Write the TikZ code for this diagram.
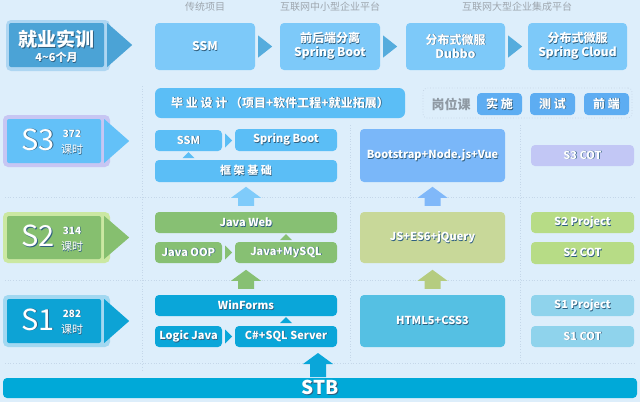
\documentclass[tikz,border=0pt]{standalone}
\usepackage{fontspec}
\setmainfont{Noto Sans CJK SC}
\usepackage{tikz}

\definecolor{bgc}{HTML}{DDEEFB}
\definecolor{hdc}{HTML}{9EA6AE}
\definecolor{jyc}{HTML}{4BA3D6}
\definecolor{jyb}{HTML}{AED6F2}
\definecolor{topc}{HTML}{7DC9F9}
\definecolor{toparr}{HTML}{55ACDD}
\definecolor{desc}{HTML}{5BBEF6}
\definecolor{gwc}{HTML}{5DADF2}
\definecolor{gwl}{HTML}{8F99A3}
\definecolor{gwd}{HTML}{C4D4E4}
\definecolor{s3c}{HTML}{63C1F8}
\definecolor{s3b}{HTML}{C7C6F3}
\definecolor{s3m}{HTML}{5BBEF6}
\definecolor{bootc}{HTML}{7AB7F9}
\definecolor{s3cot}{HTML}{C2C7F5}
\definecolor{s2c}{HTML}{86BF6F}
\definecolor{s2b}{HTML}{CBE8A2}
\definecolor{s2m}{HTML}{87C073}
\definecolor{jsc}{HTML}{C8D899}
\definecolor{s2s}{HTML}{B7DC86}
\definecolor{s1c}{HTML}{0DA3D5}
\definecolor{s1b}{HTML}{A2D8F1}
\definecolor{s1m}{HTML}{0AA6D9}
\definecolor{htmlc}{HTML}{55C0E3}
\definecolor{s1s}{HTML}{8FD3EC}
\definecolor{stbc}{HTML}{00A9D8}
\definecolor{sepc}{HTML}{C5D7E9}
\definecolor{shc}{HTML}{2F5F80}
\definecolor{upblue}{HTML}{7FCBFA}
\definecolor{upboot}{HTML}{80B8F9}
\definecolor{upjs}{HTML}{B5CC80}

% white text with a small dark shadow
\newcommand{\shd}[1]{\leavevmode\rlap{\kern0.7pt\raisebox{-0.7pt}{\color{shc}#1}}#1}
% small pointer to the right of a box
\newcommand{\pointer}[4]{\fill[#1] (#2) ++(3,-#3) -- ++(#4,#3) -- ++(-#4,#3) -- cycle;}
% small pointer up into the box above
\newcommand{\uptri}[2]{\fill[#1] (#2) ++(-6,7) -- ++(6,-6) -- ++(6,6) -- cycle;}
% block arrow up: colour, anchor below, gap, length
\newcommand{\blockarrow}[4]{\fill[#1] (#2) ++(-8,-#3) -- ++(16,0) -- ++(0,{11-#4}) -- ++(7,0) -- ++(-15,-11) -- ++(-15,11) -- ++(7,0) -- cycle;}

\tikzset{
  box/.style={rounded corners=4pt, inner sep=0pt, text=white, align=center,
    font=\bfseries\fontsize{11}{13}\selectfont},
  bigbox/.style={box, font=\bfseries\fontsize{12}{14}\selectfont},
  border/.style={rounded corners=5pt, inner sep=0pt, minimum width=107pt, minimum height=52pt},
  sbox/.style={box, rounded corners=2pt, minimum width=94pt, minimum height=44pt},
  head/.style={text=hdc, font=\fontsize{10}{12}\selectfont},
  sep/.style={sepc, dotted, line width=0.7pt},
}

\begin{document}
\begin{tikzpicture}[x=1pt,y=-1pt]
  \useasboundingbox (0,0) rectangle (640,402);
  \fill[bgc] (0,0) rectangle (640,402);

  % dotted separators
  \draw[sep] (5,197) -- (635,197);
  \draw[sep] (5,280) -- (635,280);
  \draw[sep] (5,363) -- (635,363);
  \draw[sep] (142,86) -- (142,370);
  \draw[sep] (350,125) -- (350,362);
  \draw[sep] (520,125) -- (520,362);

  % headers
  \node[head] (h1) at (205,7) {传统项目};
  \node[head] (h2) at (330,7) {互联网中小型企业平台};
  \node[head] (h3) at (517,7) {互联网大型企业集成平台};

  % top row
  \node[border, fill=jyb, minimum width=104pt, minimum height=51pt] (jyb) at (58,45.5) {};
  \node[sbox, fill=jyc, minimum width=95pt] (jy) at (56.5,45) {};
  \pointer{jyc}{jy.east}{22}{25}
  \node[text=white, font=\bfseries\fontsize{19}{21}\selectfont] (jyt) at (56.5,40) {\shd{就业实训}};
  \node[text=white, font=\bfseries\fontsize{11}{13}\selectfont] (jys) at (56.5,58) {\shd{4\textasciitilde6个月}};

  \node[bigbox, fill=topc, minimum width=100pt, minimum height=47pt] (ssm) at (205,46.5) {\shd{SSM}};
  \node[bigbox, fill=topc, minimum width=100pt, minimum height=47pt] (fed) at (330,46.5) {\shd{前后端分离}\\\shd{Spring Boot}};
  \node[bigbox, fill=topc, minimum width=99pt, minimum height=47pt] (dubbo) at (455.5,46.5) {\shd{分布式微服}\\\shd{Dubbo}};
  \node[bigbox, fill=topc, minimum width=99pt, minimum height=47pt] (cloud) at (577.5,46.5) {\shd{分布式微服}\\\shd{Spring Cloud}};
  \pointer{toparr}{ssm.east}{11}{14}
  \pointer{toparr}{fed.east}{11}{14}
  \pointer{toparr}{dubbo.east}{11}{14}

  % design and job courses
  \node[bigbox, fill=desc, rounded corners=6pt, minimum width=250pt, minimum height=30pt] (des) at (280,103) {\shd{毕 业 设 计 （项目+软件工程+就业拓展）}};
  \node[draw=gwd, dotted, line width=0.7pt, rounded corners=4pt, minimum width=209pt, minimum height=30pt] (gw) at (527.5,103) {};
  \node[text=gwl, font=\bfseries\fontsize{13}{15}\selectfont] (gwt) at (451,104) {岗位课};
  \node[bigbox, fill=gwc, minimum width=45pt, minimum height=22pt] (ss) at (499.5,104) {\shd{实 施}};
  \node[bigbox, fill=gwc, minimum width=45pt, minimum height=22pt] (cs1) at (552.5,104) {\shd{测 试}};
  \node[bigbox, fill=gwc, minimum width=45pt, minimum height=22pt] (qd) at (606.5,104) {\shd{前 端}};

  % S3
  \node[border, fill=s3b] (s3b) at (56.5,141) {};
  \node[sbox, fill=s3c] (s3) at (54,141) {};
  \pointer{s3c}{s3.east}{22}{25}
  \node[text=white, font=\fontsize{29}{29}\selectfont] (s3t) at (38,140) {\shd{S3}};
  \node[text=white, font=\bfseries\fontsize{10}{11}\selectfont] (s3h) at (72,134) {\shd{372}};
  \node[text=white, font=\fontsize{11}{12}\selectfont] (s3k) at (72,150) {\shd{课时}};

  \node[box, fill=s3m, minimum width=67pt, minimum height=21pt] (ssm3) at (188.5,140.5) {\shd{SSM}};
  \node[box, fill=s3m, minimum width=102pt, minimum height=22pt] (sb) at (286,140) {\shd{Spring Boot}};
  \node[box, fill=s3m, minimum width=182pt, minimum height=22pt] (kj) at (246,171) {\shd{框 架 基 础}};
  \pointer{s3m}{ssm3.east}{7}{7}
  \uptri{s3m}{ssm3.south}
  \node[box, fill=bootc, minimum width=145pt, minimum height=53pt] (boot) at (432.5,155.5) {\shd{Bootstrap+Node.js+Vue}};
  \node[box, fill=s3cot, minimum width=103pt, minimum height=21pt] (s3co) at (582.5,155.5) {\shd{S3 COT}};

  % S2
  \node[border, fill=s2b, minimum height=51pt] (s2b) at (56.5,237.5) {};
  \node[sbox, fill=s2c, minimum height=43pt] (s2) at (54,237.5) {};
  \pointer{s2c}{s2.east}{21.5}{25}
  \node[text=white, font=\fontsize{29}{29}\selectfont] (s2t) at (38,236.5) {\shd{S2}};
  \node[text=white, font=\bfseries\fontsize{10}{11}\selectfont] (s2h) at (72,231) {\shd{314}};
  \node[text=white, font=\fontsize{11}{12}\selectfont] (s2k) at (72,247) {\shd{课时}};

  \node[box, fill=s2m, minimum width=182pt, minimum height=21pt] (jw) at (246,222.5) {\shd{Java Web}};
  \node[box, fill=s2m, minimum width=67pt, minimum height=21pt] (oop) at (188.5,252.5) {\shd{Java OOP}};
  \node[box, fill=s2m, minimum width=102pt, minimum height=21pt] (jm) at (286,252.5) {\shd{Java+MySQL}};
  \pointer{s2m}{oop.east}{7}{7}
  \uptri{s2m}{jm.north |- jw.south}
  \node[box, fill=jsc, minimum width=145pt, minimum height=51pt] (js) at (432.5,237.5) {\shd{JS+ES6+jQuery}};
  \node[box, fill=s2s, minimum width=103pt, minimum height=21pt] (s2p) at (582.5,222.5) {\shd{S2 Project}};
  \node[box, fill=s2s, minimum width=103pt, minimum height=22pt] (s2co) at (582.5,253) {\shd{S2 COT}};
  \blockarrow{upblue}{jw.north}{6}{19}
  \blockarrow{upboot}{js.north}{6}{19}

  % S1
  \node[border, fill=s1b] (s1b) at (56.5,321) {};
  \node[sbox, fill=s1c] (s1) at (54,321) {};
  \pointer{s1c}{s1.east}{22}{25}
  \node[text=white, font=\fontsize{29}{29}\selectfont] (s1t) at (38,320) {\shd{S1}};
  \node[text=white, font=\bfseries\fontsize{10}{11}\selectfont] (s1h) at (72,314) {\shd{282}};
  \node[text=white, font=\fontsize{11}{12}\selectfont] (s1k) at (72,330) {\shd{课时}};

  \node[box, fill=s1m, minimum width=182pt, minimum height=21pt] (wf) at (246,305.5) {\shd{WinForms}};
  \node[box, fill=s1m, minimum width=67pt, minimum height=21pt] (lj) at (188.5,336.5) {\shd{Logic Java}};
  \node[box, fill=s1m, minimum width=102pt, minimum height=21pt] (csql) at (286,336.5) {\shd{C\#+SQL Server}};
  \pointer{s1m}{lj.east}{7}{7}
  \uptri{s1m}{csql.north |- wf.south}
  \node[box, fill=htmlc, minimum width=145pt, minimum height=52pt] (html) at (432.5,321) {\shd{HTML5+CSS3}};
  \node[box, fill=s1s, minimum width=103pt, minimum height=21pt] (s1p) at (582.5,305.5) {\shd{S1 Project}};
  \node[box, fill=s1s, minimum width=103pt, minimum height=21pt] (s1co) at (582.5,336.5) {\shd{S1 COT}};
  \blockarrow{s2m}{wf.north}{6}{19}
  \blockarrow{upjs}{html.north}{6}{19}

  % STB
  \node[box, fill=stbc, minimum width=634pt, minimum height=20pt, font=\bfseries\fontsize{19}{20}\selectfont] (stb) at (320,388) {\shd{STB}};
  \coordinate (stbup) at (318,378);
  \blockarrow{s1m}{stbup}{1}{24}
\end{tikzpicture}
\end{document}
